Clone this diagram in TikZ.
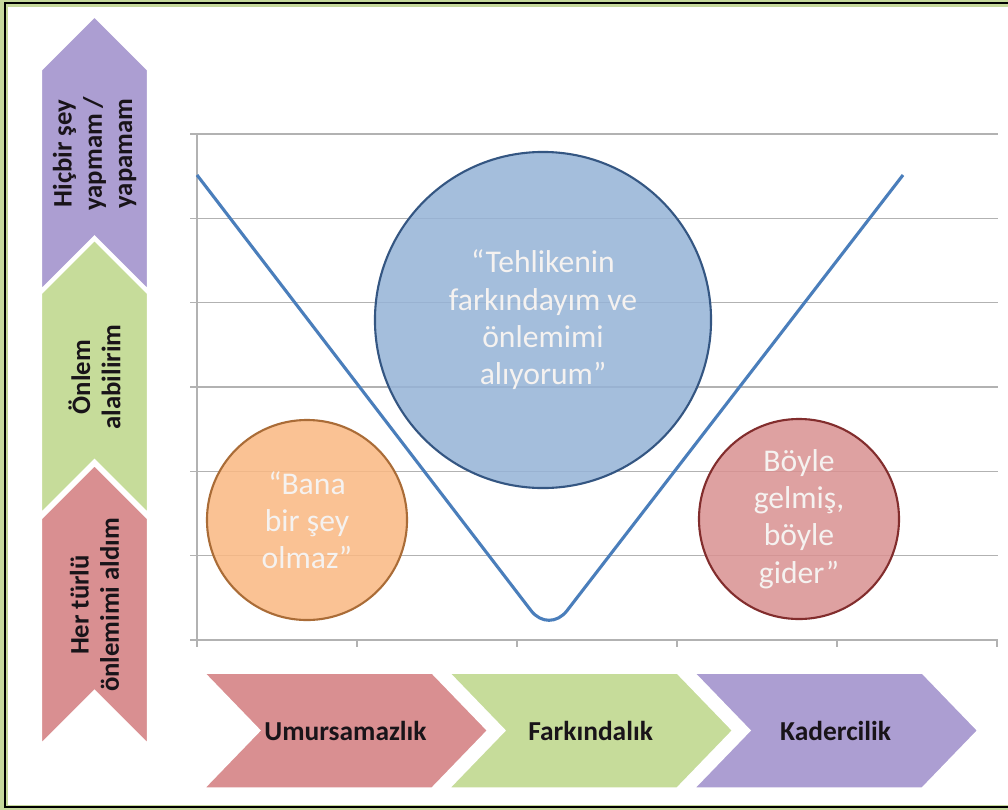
\documentclass[tikz,border=0pt]{standalone}
\usepackage{fontspec}
\setmainfont{Carlito}
\usepackage{tikz}
\usetikzlibrary{shapes.symbols}

\definecolor{framegreen}{RGB}{198,217,156}
\definecolor{gridgray}{RGB}{178,178,178}
\definecolor{vblue}{RGB}{74,126,187}
\definecolor{chevpurple}{RGB}{172,158,210}
\definecolor{chevgreen}{RGB}{198,220,154}
\definecolor{chevred}{RGB}{217,143,145}
\definecolor{chevtext}{RGB}{25,20,25}
\definecolor{bubbletext}{RGB}{245,242,240}
\definecolor{bubbleblue}{RGB}{149,179,215}
\definecolor{bubbleblueline}{RGB}{52,86,130}
\definecolor{bubbleorange}{RGB}{250,184,130}
\definecolor{bubbleorangeline}{RGB}{170,108,55}
\definecolor{bubblered}{RGB}{217,145,145}
\definecolor{bubbleredline}{RGB}{130,45,45}

\tikzstyle{gridline} = [draw=gridgray, line width=1pt]
\tikzstyle{vcurve} = [draw=vblue, line width=2.2pt, line join=round, rounded corners=21pt]
\tikzstyle{stage} = [signal, signal to=east, signal from=west, signal pointer angle=92, minimum width=7.175cm, minimum height=2.925cm, inner sep=0pt, draw=white, line width=2.5pt, text=chevtext, font=\fontsize{19.5}{23}\selectfont\bfseries]
\tikzstyle{level} = [signal, signal to=east, signal from=west, signal pointer angle=90, rotate=90, minimum width=6.9cm, minimum height=2.7cm, inner sep=0pt, draw=white, line width=2.5pt, align=center, text=chevtext, font=\fontsize{19}{21.5}\selectfont\bfseries]
\tikzstyle{bubble} = [circle, inner sep=0pt, line width=1.5pt, align=center, fill opacity=0.85, text opacity=1, text=bubbletext, font=\fontsize{22.5}{26.5}\selectfont]

\begin{document}
\begin{tikzpicture}[x=0.025cm, y=-0.025cm, node distance=6.125cm]
\useasboundingbox (0,0) rectangle (1008,810);

% frame
\fill[framegreen] (0,0) rectangle (1008,810);
\fill[white] (8,7) rectangle (1008,805);
\draw[black, line width=2pt] (5,3) rectangle (1015,807);

% chart grid
\foreach \k in {0,...,5}
  \draw[gridline] (190,{134+84.33*\k}) -- (998,{134+84.33*\k});
\draw[gridline] (190,640) -- (998,640);
\draw[gridline] (197,134) -- (197,640);
\foreach \x in {197,357,...,997}
  \draw[gridline] (\x,640) -- (\x,647);

% V line
\draw[vcurve] (197,175) -- (549,634) -- (903,175);

% bubbles
\node (aware) [bubble, draw=bubbleblueline, fill=bubbleblue, minimum size=8.4cm] at (543,320) {“Tehlikenin\\farkındayım ve\\önlemimi\\alıyorum”};
\node (careless) [bubble, draw=bubbleorangeline, fill=bubbleorange, minimum size=5cm] at (307,520) {“Bana\\bir şey\\olmaz”};
\node (fate) [bubble, draw=bubbleredline, fill=bubblered, minimum size=5cm] at (799,519) {Böyle\\gelmiş,\\böyle\\gider”};

% left levels
\node (herturlu) [level, fill=chevred] at (94.5,605) {Her türlü\\önlemimi aldım};
\node (onlem) [level, fill=chevgreen] at (94.5,377) {Önlem\\alabilirim};
\node (hicbir) [level, fill=chevpurple] at (94.5,153.5) {Hiçbir şey\\yapmam /\\yapamam};

% bottom stages
\node (umursama) [stage, fill=chevred] at (345.5,730.5) {Umursamazlık};
\node (farkinda) [stage, fill=chevgreen, right of=umursama] {Farkındalık};
\node (kader) [stage, fill=chevpurple, right of=farkinda] {Kadercilik};
\end{tikzpicture}
\end{document}
